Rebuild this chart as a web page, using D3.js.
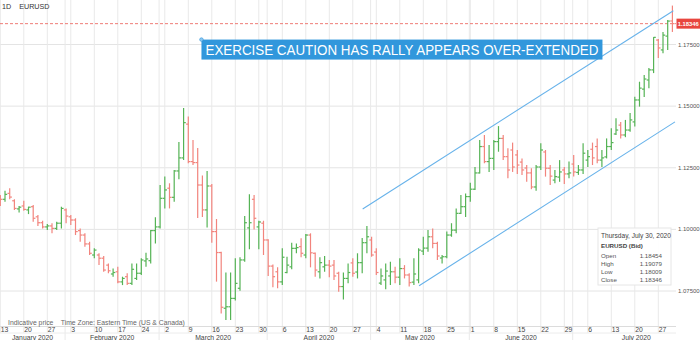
<!DOCTYPE html>
<html>
<head>
<meta charset="utf-8">
<script src="https://cdn.jsdelivr.net/npm/d3@7"></script>
<style>
    body { margin: 0; background: #ffffff; }
    svg { display: block; font-family: "Liberation Sans", Arial, sans-serif; }
</style>
</head>
<body>
<div class="graph"></div>
<script>
// EURUSD daily bars, Jan 13 - Jul 30 2020 (one value per trading day)
const opens = [
    1.1133, 1.1122, 1.1146, 1.1116, 1.1083, 1.1095, 1.1079, 1.1092, 1.1051, 1.1027,
    1.1010, 1.1014, 1.1004, 1.1025, 1.1079, 1.1051, 1.1038, 1.0995, 1.0977, 1.0941,
    1.0896, 1.0896, 1.0883, 1.0855, 1.0819, 1.0828, 1.0787, 1.0808, 1.0781, 1.0801,
    1.0822, 1.0872, 1.0873, 1.0995, 1.1010, 1.1126, 1.1167, 1.1130, 1.1237, 1.1290,
    1.1427, 1.1275, 1.1271, 1.1180, 1.1079, 1.1176, 1.0991, 1.0906, 1.0680, 1.0686,
    1.0720, 1.0761, 1.0876, 1.1006, 1.1122, 1.1010, 1.1025, 1.0957, 1.0851, 1.0828,
    1.0787, 1.0825, 1.0848, 1.0923, 1.0930, 1.0896, 1.0977, 1.0903, 1.0828, 1.0848,
    1.0855, 1.0855, 1.0822, 1.0768, 1.0801, 1.0864, 1.0827, 1.0865, 1.0946, 1.0957,
    1.0908, 1.0782, 1.0795, 1.0811, 1.0828, 1.0806, 1.0841, 1.0815, 1.0786, 1.0795,
    1.0912, 1.0924, 1.0970, 1.0943, 1.0884, 1.0889, 1.0977, 1.0997, 1.1065, 1.1092,
    1.1133, 1.1163, 1.1229, 1.1336, 1.1275, 1.1288, 1.1356, 1.1369, 1.1295, 1.1322,
    1.1302, 1.1273, 1.1249, 1.1229, 1.1172, 1.1253, 1.1314, 1.1248, 1.1200, 1.1212,
    1.1241, 1.1225, 1.1265, 1.1231, 1.1241, 1.1281, 1.1325, 1.1336, 1.1281, 1.1294,
    1.1336, 1.1387, 1.1423, 1.1383, 1.1403, 1.1436, 1.1525, 1.1569, 1.1606, 1.1647,
    1.1768, 1.1728, 1.1784, 1.18454
];
const highs = [
    1.1139, 1.1157, 1.1167, 1.1122, 1.1095, 1.1116, 1.1092, 1.1099, 1.1058, 1.1035,
    1.1022, 1.1025, 1.1031, 1.1092, 1.1085, 1.1058, 1.1045, 1.1004, 1.0984, 1.0950,
    1.0923, 1.0903, 1.0892, 1.0862, 1.0841, 1.0848, 1.0808, 1.0822, 1.0862, 1.0862,
    1.0883, 1.0905, 1.0997, 1.1049, 1.1180, 1.1214, 1.1187, 1.1241, 1.1354, 1.1492,
    1.1458, 1.1363, 1.1330, 1.1219, 1.1237, 1.1184, 1.1042, 1.0909, 1.0825, 1.0825,
    1.0883, 1.0887, 1.1054, 1.1143, 1.1139, 1.1035, 1.1035, 1.0960, 1.0858, 1.0846,
    1.0923, 1.0889, 1.0946, 1.0943, 1.0964, 1.0981, 1.0984, 1.0906, 1.0887, 1.0892,
    1.0876, 1.0876, 1.0828, 1.0825, 1.0862, 1.0883, 1.0903, 1.0965, 1.1014, 1.0970,
    1.0923, 1.0841, 1.0862, 1.0869, 1.0848, 1.0883, 1.0855, 1.0822, 1.0883, 1.0923,
    1.0970, 1.0997, 1.1004, 1.0950, 1.0896, 1.0991, 1.1025, 1.1085, 1.1139, 1.1146,
    1.1189, 1.1253, 1.1363, 1.1383, 1.1342, 1.1363, 1.1419, 1.1383, 1.1329, 1.1352,
    1.1322, 1.1288, 1.1261, 1.1248, 1.1261, 1.1349, 1.1322, 1.1261, 1.1241, 1.1281,
    1.1253, 1.1275, 1.1302, 1.1261, 1.1349, 1.1322, 1.1352, 1.1369, 1.1322, 1.1369,
    1.1410, 1.1451, 1.1436, 1.1444, 1.1472, 1.1538, 1.1599, 1.1626, 1.1655, 1.1780,
    1.1772, 1.1801, 1.1849, 1.19079
];
const lows = [
    1.1095, 1.1112, 1.1122, 1.1079, 1.1068, 1.1076, 1.1062, 1.1031, 1.1014, 1.1004,
    1.0997, 1.0984, 1.0997, 1.1004, 1.1025, 1.1018, 1.0977, 1.0950, 1.0930, 1.0896,
    1.0883, 1.0855, 1.0828, 1.0822, 1.0808, 1.0781, 1.0774, 1.0774, 1.0774, 1.0795,
    1.0815, 1.0848, 1.0862, 1.0943, 1.1004, 1.1085, 1.1085, 1.1112, 1.1203, 1.1281,
    1.1268, 1.1261, 1.1046, 1.1050, 1.1008, 1.0946, 1.0788, 1.0659, 1.0632, 1.0632,
    1.0711, 1.0751, 1.0869, 1.0919, 1.1000, 1.0919, 1.0896, 1.0811, 1.0765, 1.0761,
    1.0774, 1.0822, 1.0838, 1.0903, 1.0887, 1.0883, 1.0846, 1.0808, 1.0801, 1.0828,
    1.0806, 1.0795, 1.0747, 1.0716, 1.0781, 1.0808, 1.0801, 1.0822, 1.0903, 1.0889,
    1.0815, 1.0774, 1.0757, 1.0774, 1.0781, 1.0774, 1.0801, 1.0768, 1.0774, 1.0781,
    1.0896, 1.0909, 1.0923, 1.0876, 1.0862, 1.0883, 1.0970, 1.0984, 1.1062, 1.1050,
    1.1112, 1.1160, 1.1227, 1.1268, 1.1233, 1.1241, 1.1315, 1.1281, 1.1207, 1.1233,
    1.1225, 1.1221, 1.1193, 1.1163, 1.1157, 1.1241, 1.1214, 1.1180, 1.1187, 1.1193,
    1.1184, 1.1207, 1.1214, 1.1221, 1.1225, 1.1253, 1.1261, 1.1268, 1.1253, 1.1288,
    1.1322, 1.1383, 1.1369, 1.1374, 1.1396, 1.1417, 1.1498, 1.1537, 1.1573, 1.1634,
    1.1695, 1.1715, 1.1728, 1.18009
];
const closes = [
    1.1122, 1.1142, 1.1131, 1.1085, 1.1090, 1.1081, 1.1090, 1.1045, 1.1027, 1.1010,
    1.1014, 1.1004, 1.1025, 1.1085, 1.1054, 1.1038, 1.0991, 1.0977, 1.0941, 1.0903,
    1.0916, 1.0883, 1.0835, 1.0832, 1.0825, 1.0787, 1.0801, 1.0781, 1.0838, 1.0822,
    1.0876, 1.0880, 1.0995, 1.1010, 1.1126, 1.1160, 1.1130, 1.1237, 1.1290, 1.1433,
    1.1275, 1.1271, 1.1180, 1.1079, 1.1176, 1.0991, 1.0906, 1.0684, 1.0686, 1.0720,
    1.0781, 1.0876, 1.1027, 1.1027, 1.1045, 1.1030, 1.0957, 1.0851, 1.0808, 1.0787,
    1.0887, 1.0855, 1.0923, 1.0926, 1.0903, 1.0977, 1.0905, 1.0835, 1.0865, 1.0855,
    1.0851, 1.0811, 1.0768, 1.0801, 1.0825, 1.0822, 1.0865, 1.0946, 1.0970, 1.0896,
    1.0825, 1.0811, 1.0831, 1.0828, 1.0806, 1.0841, 1.0815, 1.0784, 1.0819, 1.0916,
    1.0924, 1.0970, 1.0943, 1.0892, 1.0889, 1.0977, 1.0997, 1.1065, 1.1092, 1.1133,
    1.1163, 1.1229, 1.1336, 1.1275, 1.1288, 1.1356, 1.1369, 1.1295, 1.1241, 1.1253,
    1.1261, 1.1241, 1.1229, 1.1172, 1.1253, 1.1322, 1.1248, 1.1216, 1.1214, 1.1233,
    1.1225, 1.1229, 1.1233, 1.1241, 1.1309, 1.1295, 1.1290, 1.1281, 1.1290, 1.1336,
    1.1352, 1.1403, 1.1383, 1.1403, 1.1444, 1.1525, 1.1573, 1.1610, 1.1647, 1.1779,
    1.1736, 1.1788, 1.1845, 1.18346
];

// First and last session shown (weekdays only)
const firstDay = new Date(2020, 0, 13);
const lastDay = new Date(2020, 6, 30);

const priceTicks = [1.075, 1.1, 1.125, 1.15, 1.175];

// Channel lines drawn by hand on the chart: [bar index, price]
const upperChannel = [[77.1, 1.1083], [143.2, 1.1887]];
const lowerChannel = [[89.1, 1.0771], [143.55, 1.1436]];

const noteText = "EXERCISE CAUTION HAS RALLY APPEARS OVER-EXTENDED";
const noteAnchor = [42.8, 1.1770];

const tooltipLabels = ["Open", "High", "Low", "Close"];

const dimensions = {
    width: 700,
    height: 340,
    plotRight: 676,
    plotBottom: 326.5,
    dayRow: 333
};

const colors = {
    up: "#55b355",
    down: "#f2847d",
    grid: "#e9e9e9",
    channel: "#67b2ea",
    note: "#3197dc",
    last: "#e8463f",
    text: "#555"
};

const tradingDays = d3.timeDay.range(firstDay, d3.timeDay.offset(lastDay, 1))
    .filter(d => d.getDay() !== 0 && d.getDay() !== 6);

const bars = tradingDays.map((d, i) => ({
    i: i,
    date: d,
    open: opens[i],
    high: highs[i],
    low: lows[i],
    close: closes[i]
}));

const xScale = d3.scaleLinear()
    .domain([0, bars.length - 1])
    .range([0.3, 672.4]);

const yScale = d3.scaleLinear()
    .domain([1.075, 1.175])
    .range([291, 44.5]);

const fmt = d3.format(".5f");

const svg = d3.select(".graph")
    .append("svg")
        .attr("width", dimensions.width)
        .attr("height", dimensions.height);

svg.append("rect")
    .attr("width", dimensions.width)
    .attr("height", dimensions.height)
    .attr("fill", "#fff");

// Horizontal grid + right hand price labels
const yGrid = svg.append("g");
yGrid.selectAll("line")
    .data(priceTicks)
    .join("line")
        .attr("x1", 0)
        .attr("x2", dimensions.plotRight)
        .attr("y1", d => yScale(d))
        .attr("y2", d => yScale(d))
        .attr("stroke", "#e4e4e4");
yGrid.selectAll("text")
    .data(priceTicks)
    .join("text")
        .attr("x", dimensions.plotRight + 2)
        .attr("y", d => yScale(d))
        .attr("dy", "0.35em")
        .attr("font-size", 6)
        .attr("fill", colors.text)
        .text(d => fmt(d));

// Weekly grid lines on Mondays, month separators where each month starts
const mondays = bars.filter(d => d.date.getDay() === 1);
const months = d3.timeMonth.range(d3.timeMonth.ceil(firstDay), lastDay);
const separators = months.map(m => {
    const before = bars.filter(d => d.date <= m);
    return before[before.length - 1];
});

const xGrid = svg.append("g");
xGrid.selectAll(".week")
    .data(mondays)
    .join("line")
        .attr("class", "week")
        .attr("x1", d => xScale(d.i))
        .attr("x2", d => xScale(d.i))
        .attr("y1", 0)
        .attr("y2", dimensions.dayRow)
        .attr("stroke", colors.grid);
xGrid.selectAll(".month")
    .data(separators)
    .join("line")
        .attr("class", "month")
        .attr("x1", d => xScale(d.i) - 1)
        .attr("x2", d => xScale(d.i) - 1)
        .attr("y1", 0)
        .attr("y2", dimensions.height)
        .attr("stroke", colors.grid);

// Axis rows at the bottom
svg.append("line")
    .attr("x1", 0).attr("x2", dimensions.plotRight)
    .attr("y1", dimensions.plotBottom).attr("y2", dimensions.plotBottom)
    .attr("stroke", "#dcdcdc");
svg.append("line")
    .attr("x1", 0).attr("x2", dimensions.plotRight)
    .attr("y1", dimensions.dayRow).attr("y2", dimensions.dayRow)
    .attr("stroke", "#ececec");

svg.append("g")
    .selectAll("text")
    .data(mondays)
    .join("text")
        .attr("x", d => xScale(d.i) + 0.5)
        .attr("y", 332)
        .attr("font-size", 6.8)
        .attr("fill", "#444")
        .text(d => d.date.getDate());

const monthEdges = [0, ...separators.map(d => xScale(d.i) - 1), dimensions.width];
const monthStarts = [firstDay, ...months];
svg.append("g")
    .selectAll("text")
    .data(monthStarts)
    .join("text")
        .attr("x", (d, i) => (monthEdges[i] + monthEdges[i + 1]) / 2)
        .attr("y", 339.5)
        .attr("text-anchor", "middle")
        .attr("font-size", 6.8)
        .attr("fill", "#444")
        .text(d3.timeFormat("%B %Y"));

svg.append("text")
    .attr("x", 8)
    .attr("y", 325)
    .attr("font-size", 6.8)
    .attr("fill", "#666")
    .attr("xml:space", "preserve")
    .text("Indicative price    Time Zone: Eastern Time (US & Canada)");

// Last price line and tag
const last = bars[bars.length - 1];
svg.append("line")
    .attr("x1", 0).attr("x2", dimensions.plotRight)
    .attr("y1", yScale(last.close)).attr("y2", yScale(last.close))
    .attr("stroke", "#ec6d67")
    .attr("stroke-width", 0.9)
    .attr("stroke-dasharray", "3,2");

// OHLC bars
const g = svg.append("g")
    .selectAll("g")
    .data(bars)
    .join("g")
        .attr("stroke", d => d.close >= d.open ? colors.up : colors.down)
        .attr("stroke-width", 1.2)
        .attr("transform", d => `translate(${xScale(d.i)},0)`);
g.append("line")
    .attr("y1", d => yScale(d.high))
    .attr("y2", d => yScale(d.low));
g.append("line")
    .attr("x1", -2.2).attr("x2", 0)
    .attr("y1", d => yScale(d.open))
    .attr("y2", d => yScale(d.open));
g.append("line")
    .attr("x1", 0).attr("x2", 2.2)
    .attr("y1", d => yScale(d.close))
    .attr("y2", d => yScale(d.close));

// Channel
const channelLine = d3.line()
    .x(d => xScale(d[0]))
    .y(d => yScale(d[1]));
svg.append("g")
    .selectAll("path")
    .data([upperChannel, lowerChannel])
    .join("path")
        .attr("d", channelLine)
        .attr("fill", "none")
        .attr("stroke", colors.channel)
        .attr("stroke-width", 1.1);

// Annotation box
const nx = xScale(noteAnchor[0]);
const ny = yScale(noteAnchor[1]);
svg.append("rect")
    .attr("x", nx)
    .attr("y", ny)
    .attr("width", 401)
    .attr("height", 20)
    .attr("fill", colors.note);
svg.append("circle")
    .attr("cx", nx)
    .attr("cy", ny)
    .attr("r", 1.8)
    .attr("fill", "#8cc6f0")
    .attr("stroke", colors.note)
    .attr("stroke-width", 0.6);
svg.append("text")
    .attr("x", nx + 4)
    .attr("y", ny + 15)
    .attr("font-size", 14)
    .attr("fill", "#fff")
    .attr("textLength", 393)
    .attr("lengthAdjust", "spacingAndGlyphs")
    .text(noteText);

// Price tag on the right axis
const tag = svg.append("g")
    .attr("transform", `translate(${dimensions.plotRight + 0.5},${yScale(last.close)})`);
tag.append("rect")
    .attr("x", 0).attr("y", -5)
    .attr("width", 23.5).attr("height", 10)
    .attr("fill", colors.last);
tag.append("text")
    .attr("x", 1.2)
    .attr("dy", "0.35em")
    .attr("font-size", 5.8)
    .attr("font-weight", "bold")
    .attr("fill", "#fff")
    .text(fmt(last.close));

// Header
svg.append("text")
    .attr("x", 2).attr("y", 9)
    .attr("font-size", 7.2)
    .attr("fill", "#333")
    .attr("xml:space", "preserve")
    .text("1D    EURUSD");

// Tooltip of the last bar
const tip = svg.append("g")
    .attr("transform", "translate(598,228)");
tip.append("rect")
    .attr("width", 73)
    .attr("height", 57)
    .attr("fill", "#fff")
    .attr("fill-opacity", 0.95)
    .attr("stroke", "#e6e6e6");
tip.append("text")
    .attr("x", 3).attr("y", 9.5)
    .attr("font-size", 6.6)
    .attr("fill", "#444")
    .text(d3.timeFormat("%A, %B %-d, %Y")(last.date));
tip.append("text")
    .attr("x", 3).attr("y", 19.5)
    .attr("font-size", 6.2)
    .attr("font-weight", "bold")
    .attr("fill", "#444")
    .text("EURUSD (Bid)");
const tipValues = [last.open, last.high, last.low, last.close];
const rows = tip.selectAll(".row")
    .data(tooltipLabels)
    .join("g")
        .attr("class", "row")
        .attr("transform", (d, i) => `translate(0,${29.5 + i * 8})`);
rows.append("text")
    .attr("x", 3)
    .attr("font-size", 6.2)
    .attr("fill", "#555")
    .text(d => d);
rows.append("text")
    .attr("x", 64)
    .attr("text-anchor", "end")
    .attr("font-size", 6.2)
    .attr("fill", "#555")
    .text((d, i) => fmt(tipValues[i]));
</script>
</body>
</html>
